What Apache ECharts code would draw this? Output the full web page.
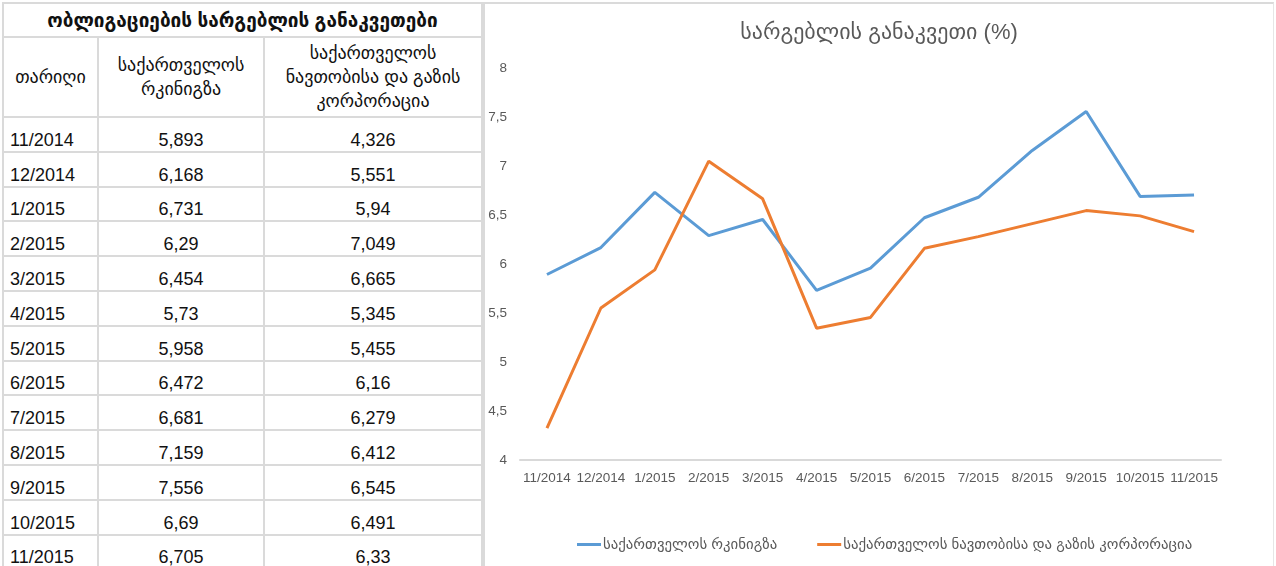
<!DOCTYPE html>
<html lang="ka">
<head>
    <meta charset="utf-8">
    <title>სარგებლის განაკვეთი</title>
    <script type="text/javascript" src="https://cdn.jsdelivr.net/npm/echarts@6/dist/echarts.min.js"></script>
    <style>
        html, body {
            width: 100%; height: 100%; margin: 0; padding: 0; overflow: hidden; background-color: #ffffff;
            font-family: "Liberation Sans", "DejaVu Sans", sans-serif;
        }
        #rates {
            position: absolute; left: 2px; top: 2px; width: 481px;
            border-collapse: collapse; table-layout: fixed; color: #111;
        }
        #rates td, #rates th {
            border: 2px solid #dadada; padding: 0; font-size: 18px; font-weight: normal;
        }
        #rates th.title { height: 32px; font-weight: bold; font-size: 19px; }
        #rates tr.head td { height: 78px; text-align: center; line-height: 24px; font-size: 18px; }
        #rates tr.row td { height: 31.8px; text-align: center; vertical-align: bottom; padding-bottom: 1px; line-height: 20px; }
        #rates tr.row td.date { text-align: left; padding-left: 6px; }
        #chart {
            position: absolute; left: 483px; top: 2px; width: 791px; height: 564px;
            border-top: 2px solid #dadada; border-left: 2px solid #dadada; border-right: 1px solid #e6e6e6;
            box-sizing: border-box;
        }
    </style>
</head>
<body>
<table id="rates">
    <colgroup><col style="width:95px"><col style="width:166px"><col style="width:218px"></colgroup>
    <tbody id="rateBody"></tbody>
</table>
<div id="chart"></div>

<script type="text/javascript">
    // თარიღები
    var months = ['11/2014', '12/2014', '1/2015', '2/2015', '3/2015', '4/2015', '5/2015',
        '6/2015', '7/2015', '8/2015', '9/2015', '10/2015', '11/2015'];
    // საქართველოს რკინიგზა
    var railway = [5.893, 6.168, 6.731, 6.29, 6.454, 5.73, 5.958, 6.472, 6.681, 7.159, 7.556, 6.69, 6.705];
    // საქართველოს ნავთობისა და გაზის კორპორაცია
    var oilGas = [4.326, 5.551, 5.94, 7.049, 6.665, 5.345, 5.455, 6.16, 6.279, 6.412, 6.545, 6.491, 6.33];

    var tableTitle = 'ობლიგაციების სარგებლის განაკვეთები';
    var dateHead = 'თარიღი';
    var railName = 'საქართველოს რკინიგზა';
    var oilName = 'საქართველოს ნავთობისა და გაზის კორპორაცია';
    var chartTitle = 'სარგებლის განაკვეთი (%)';

    function comma(v) {
        return String(v).replace('.', ',');
    }

    // ცხრილი
    var html = '<tr><th class="title" colspan="3">' + tableTitle + '</th></tr>';
    html += '<tr class="head"><td>' + dateHead + '</td><td>საქართველოს<br>რკინიგზა</td>' +
        '<td>საქართველოს<br>ნავთობისა და გაზის<br>კორპორაცია</td></tr>';
    for (var i = 0; i < months.length; i++) {
        html += '<tr class="row"><td class="date">' + months[i] + '</td><td>' + comma(railway[i]) +
            '</td><td>' + comma(oilGas[i]) + '</td></tr>';
    }
    document.getElementById('rateBody').innerHTML = html;

    // გრაფიკი
    var myChart = echarts.init(document.getElementById('chart'));
    var textFont = '"Liberation Sans", "DejaVu Sans", sans-serif';

    var option = {
        backgroundColor: '#ffffff',
        animation: false,
        title: {
            text: chartTitle,
            left: 'center',
            top: 13,
            textStyle: { color: '#595959', fontSize: 22, fontWeight: 'normal', fontFamily: textFont }
        },
        legend: {
            bottom: 9,
            left: 87,
            itemWidth: 24,
            itemHeight: 3,
            itemGap: 40,
            icon: 'rect',
            textStyle: { color: '#595959', fontSize: 14.8, fontFamily: textFont, padding: [0, 0, 0, -3] },
            data: [railName, oilName]
        },
        grid: { left: 35, right: 52, top: 64, bottom: 106 },
        xAxis: {
            type: 'category',
            data: months,
            axisLine: { lineStyle: { color: '#d9d9d9', width: 2 } },
            axisTick: { show: false },
            axisLabel: { color: '#595959', fontSize: 13.5, margin: 11, interval: 0, fontFamily: textFont }
        },
        yAxis: {
            type: 'value',
            min: 4,
            max: 8,
            interval: 0.5,
            axisLine: { show: false },
            axisTick: { show: false },
            splitLine: { show: false },
            axisLabel: {
                color: '#595959', fontSize: 13.5, margin: 13, fontFamily: textFont,
                formatter: function (v) { return comma(v); }
            }
        },
        series: [
            {
                name: railName,
                type: 'line',
                data: railway,
                showSymbol: false,
                symbol: 'none',
                lineStyle: { color: '#5b9bd5', width: 3 },
                itemStyle: { color: '#5b9bd5' }
            },
            {
                name: oilName,
                type: 'line',
                data: oilGas,
                showSymbol: false,
                symbol: 'none',
                lineStyle: { color: '#ed7d31', width: 3 },
                itemStyle: { color: '#ed7d31' }
            }
        ]
    };

    myChart.setOption(option);
</script>
</body>
</html>
